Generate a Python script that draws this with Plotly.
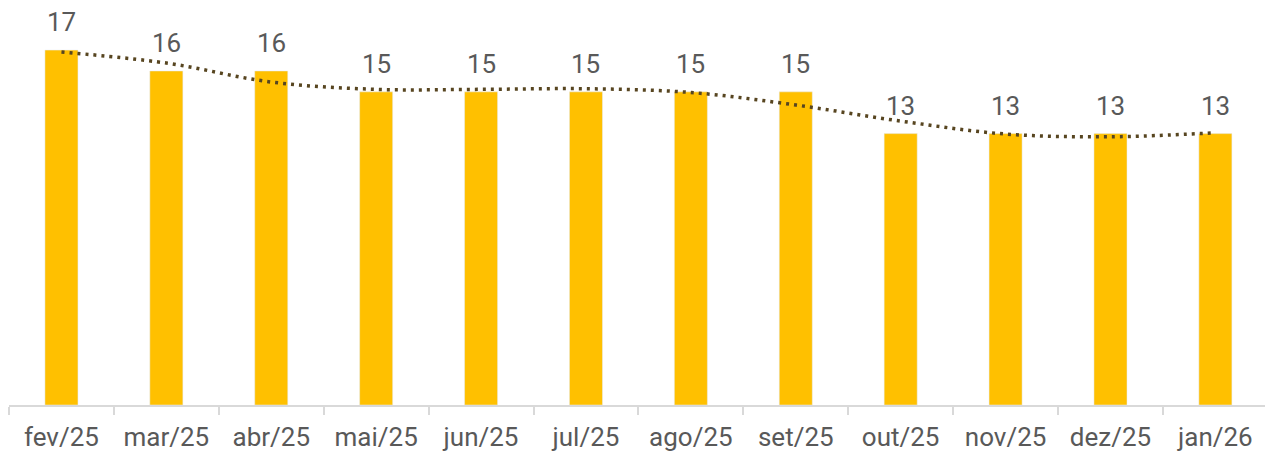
import plotly.graph_objects as go

categories = ["fev/25", "mar/25", "abr/25", "mai/25", "jun/25", "jul/25",
              "ago/25", "set/25", "out/25", "nov/25", "dez/25", "jan/26"]
values = [17, 16, 16, 15, 15, 15, 15, 15, 13, 13, 13, 13]
trend = [16.91, 16.38, 15.47, 15.12, 15.12, 15.15, 14.97, 14.37, 13.60, 12.98, 12.85, 13.04]

BAR_COLOR = "#FFC000"
TREND_COLOR = "#574520"
TEXT_COLOR = "#595959"
FONT = "Roboto"

fig = go.Figure()
fig.add_trace(go.Bar(x=categories, y=values, marker_color=BAR_COLOR,
                     width=0.315, hoverinfo="skip"))
fig.add_trace(go.Scatter(x=categories, y=trend, mode="lines",
                         line=dict(color=TREND_COLOR, width=3.5, dash="3px,5px",
                                   shape="spline", smoothing=1.0),
                         hoverinfo="skip"))

for c, v in zip(categories, values):
    fig.add_annotation(x=c, y=v, text=str(v), showarrow=False,
                       yanchor="bottom", yshift=11,
                       font=dict(family=FONT, size=26, color=TEXT_COLOR))

fig.update_layout(
    width=1265, height=452,
    margin=dict(l=9, r=0, t=0, b=47),
    plot_bgcolor="white", paper_bgcolor="white",
    showlegend=False,
    font=dict(family=FONT, size=26, color=TEXT_COLOR),
    xaxis=dict(range=[-0.5, 11.473], showgrid=False, showline=True,
               automargin=False, ticklabelstandoff=8,
               linecolor="#D9D9D9", linewidth=2, ticks="outside",
               tickson="boundaries", ticklen=8, tickcolor="#D9D9D9",
               tickwidth=2, tickfont=dict(family=FONT, size=26, color=TEXT_COLOR)),
    yaxis=dict(range=[0, 19.40], visible=False, showgrid=False, automargin=False),
)

fig.write_html("out.html", config={"displayModeBar": False},
               post_script="document.body.style.margin='0';document.body.style.overflow='hidden';")
